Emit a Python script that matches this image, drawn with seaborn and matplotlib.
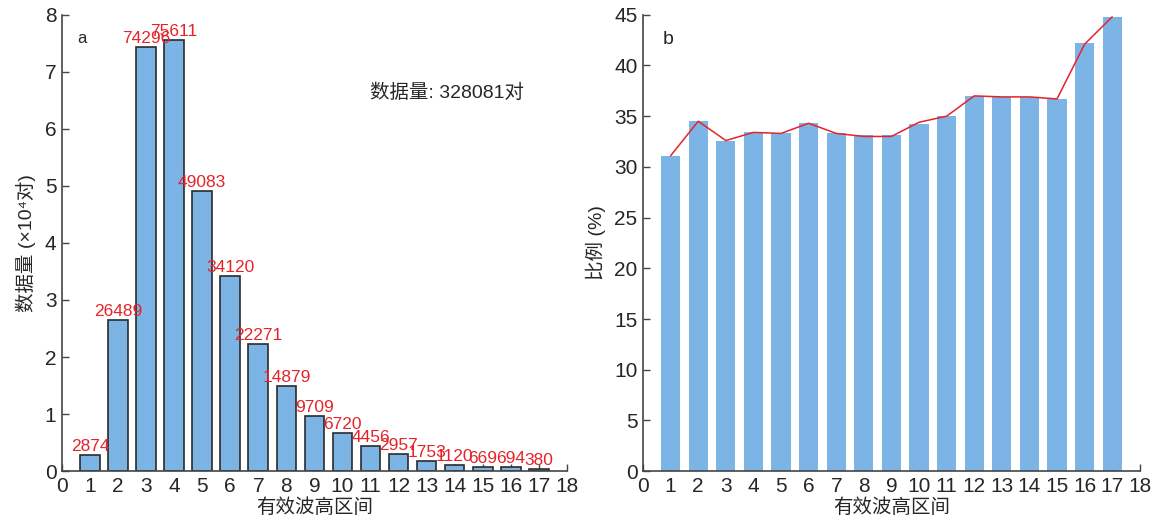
import numpy as np
import matplotlib
matplotlib.use('Agg')
import matplotlib.pyplot as plt
import seaborn as sns

# bins of significant wave height
bins = list(range(1, 18))
counts = [2874, 26489, 74296, 75611, 49083, 34120, 22271, 14879, 9709,
          6720, 4456, 2957, 1753, 1120, 669, 694, 380]
ratio_bars = [31.1, 34.5, 32.6, 33.4, 33.3, 34.3, 33.3, 33.1, 33.1,
              34.2, 35.0, 37.0, 36.9, 36.9, 36.7, 42.2, 44.8]
ratio_line = [31.1, 34.5, 32.6, 33.4, 33.3, 34.3, 33.3, 33.0, 33.0,
              34.4, 35.0, 37.0, 36.9, 36.9, 36.7, 42.1, 44.8]
total_text = '数据量: 328081对'
xlabel = '有效波高区间'
ylabel_a = '数据量 (×10⁴对)'
ylabel_b = '比例 (%)'

sns.set_style('ticks')
plt.rcParams['font.family'] = ['Liberation Sans', 'Noto Sans CJK SC', 'DejaVu Sans']
plt.rcParams['axes.unicode_minus'] = False

bar_color = '#7DB4E6'
red = '#E5232A'

fig = plt.figure(figsize=(11.58, 5.27), dpi=100)
ax1 = fig.add_axes([0.0535, 0.106, 0.436, 0.866])
ax2 = fig.add_axes([0.5553, 0.106, 0.429, 0.866])

# panel a
sns.barplot(x=bins, y=np.array(counts) / 1e4, native_scale=True, width=0.7,
            color=bar_color, edgecolor='#2b2b2b', linewidth=1.2, saturation=1,
            ax=ax1)
for b, c in zip(bins, counts):
    ax1.text(b, c / 1e4 + 0.02, str(c), color=red, fontsize=12.5,
             ha='center', va='bottom')
ax1.set_xlim(0, 18)
ax1.set_ylim(0, 8)
ax1.set_xticks(range(0, 19))
ax1.set_yticks(range(0, 9))
ax1.set_xlabel(xlabel, fontsize=14, labelpad=2)
ax1.set_ylabel(ylabel_a, fontsize=14, labelpad=6)
ax1.text(0.03, 0.965, 'a', transform=ax1.transAxes, fontsize=12, va='top')
ax1.text(0.61, 0.83, total_text, transform=ax1.transAxes, fontsize=14,
         va='center')

# panel b
sns.barplot(x=bins, y=ratio_bars, native_scale=True, width=0.7,
            color=bar_color, linewidth=0, saturation=1, ax=ax2)
sns.lineplot(x=bins, y=ratio_line, color=red, linewidth=1.1, ax=ax2)
ax2.set_xlim(0, 18)
ax2.set_ylim(0, 45)
ax2.set_xticks(range(0, 19))
ax2.set_yticks(range(0, 46, 5))
ax2.set_xlabel(xlabel, fontsize=14, labelpad=2)
ax2.set_ylabel(ylabel_b, fontsize=14, labelpad=6)
ax2.text(0.04, 0.965, 'b', transform=ax2.transAxes, fontsize=14, va='top')

for ax in (ax1, ax2):
    sns.despine(ax=ax)
    ax.tick_params(direction='in', length=5, width=1, labelsize=15,
                   color='#444444', pad=4)
    for s in ('left', 'bottom'):
        ax.spines[s].set_color('#444444')
        ax.spines[s].set_linewidth(1.2)
    ax.set_xticklabels([str(i) for i in range(0, 19)])

fig.savefig('out.png', dpi=100)
